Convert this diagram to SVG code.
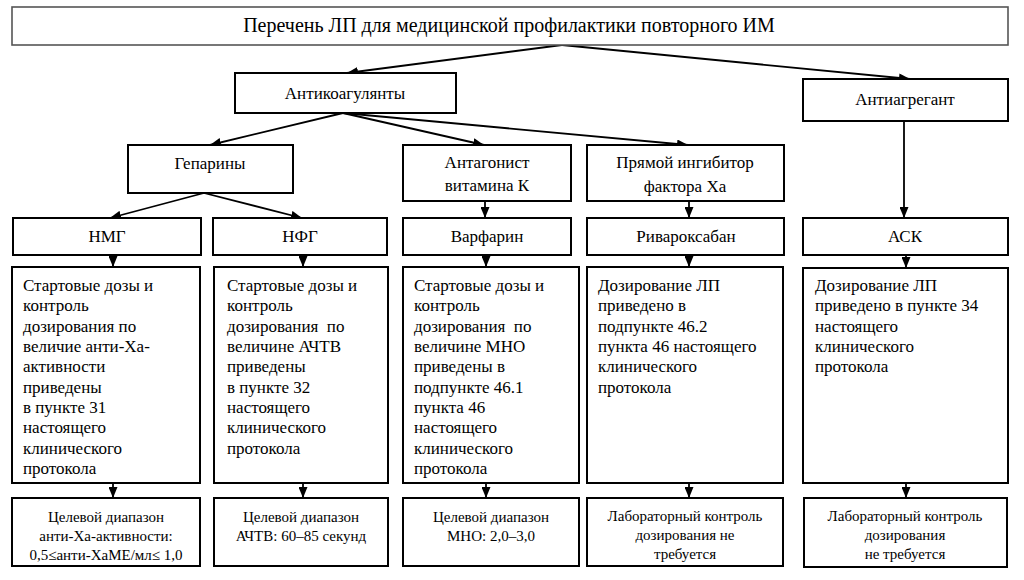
<svg xmlns="http://www.w3.org/2000/svg" width="1024" height="580" viewBox="0 0 1024 580">
<defs>
<marker id="arr" markerUnits="userSpaceOnUse" markerWidth="11" markerHeight="9" refX="11" refY="4.5" orient="auto">
<path d="M0,0 L11,4.5 L0,9 z" fill="#000"/>
</marker>
<style>
.box{fill:#fff;stroke:#000;stroke-width:2}
.tbox{fill:#fff;stroke:#555;stroke-width:1.6}
text{font-family:"Liberation Serif","Times New Roman",Tinos,"Noto Serif","DejaVu Serif",FreeSerif,serif;fill:#000}
.tt{font-size:20px}
.lb{font-size:17px;text-anchor:middle}
.bd{font-size:17px}
.sm{font-size:15px;text-anchor:middle}
.c{fill:none;stroke:#000;stroke-width:1.8;marker-end:url(#arr)}
</style>
</defs>
<rect width="1024" height="580" fill="#fff"/>

<g id="connectors">
<line class="c" x1="562" y1="45" x2="347" y2="73"/>
<line class="c" x1="562" y1="45" x2="910" y2="79"/>
<line class="c" x1="343" y1="113" x2="210" y2="145"/>
<line class="c" x1="343" y1="113" x2="484" y2="145"/>
<line class="c" x1="343" y1="113" x2="688" y2="145"/>
<line class="c" x1="904" y1="121" x2="904" y2="218"/>
<line class="c" x1="204" y1="193" x2="110" y2="218"/>
<line class="c" x1="204" y1="193" x2="302" y2="218"/>
<line class="c" x1="485" y1="201" x2="485" y2="218"/>
<line class="c" x1="689" y1="201" x2="689" y2="218"/>
<line class="c" x1="113" y1="255" x2="113" y2="267"/>
<line class="c" x1="303" y1="255" x2="303" y2="267"/>
<line class="c" x1="486" y1="255" x2="486" y2="267"/>
<line class="c" x1="689" y1="255" x2="689" y2="267"/>
<line class="c" x1="906" y1="255" x2="906" y2="268"/>
<line class="c" x1="113" y1="483" x2="113" y2="498"/>
<line class="c" x1="303" y1="483" x2="303" y2="498"/>
<line class="c" x1="486" y1="483" x2="486" y2="498"/>
<line class="c" x1="689" y1="483" x2="689" y2="498"/>
<line class="c" x1="906" y1="483" x2="906" y2="498"/>
</g>

<g id="title">
<rect class="tbox" x="12" y="7" width="996" height="38"/>
<text class="tt" x="509" y="32" text-anchor="middle">Перечень ЛП для медицинской профилактики повторного ИМ</text>
</g>

<g id="anticoag">
<rect class="box" x="235" y="73" width="221" height="40"/>
<text class="lb" x="345" y="99">Антикоагулянты</text>
</g>

<g id="antiagr">
<rect class="box" x="803" y="79" width="205" height="42"/>
<text class="lb" x="905" y="105">Антиагрегант</text>
</g>

<g id="heparins">
<rect class="box" x="128" y="145" width="165" height="48"/>
<text class="lb" x="210" y="169">Гепарины</text>
</g>

<g id="antagonist">
<rect class="box" x="403" y="145" width="168" height="56"/>
<text class="lb" x="487" y="168">Антагонист</text>
<text class="lb" x="487" y="191">витамина К</text>
</g>

<g id="direct">
<rect class="box" x="587" y="145" width="197" height="56"/>
<text class="lb" x="685" y="168">Прямой ингибитор</text>
<text class="lb" x="685" y="192">фактора Ха</text>
</g>

<g id="nmg">
<rect class="box" x="13" y="218" width="188" height="37"/>
<text class="lb" x="107" y="242">НМГ</text>
</g>
<g id="nfg">
<rect class="box" x="213" y="218" width="174" height="37"/>
<text class="lb" x="300" y="242">НФГ</text>
</g>
<g id="warfarin">
<rect class="box" x="403" y="218" width="168" height="37"/>
<text class="lb" x="487" y="242">Варфарин</text>
</g>
<g id="rivaroxaban">
<rect class="box" x="587" y="218" width="197" height="37"/>
<text class="lb" x="686" y="242">Ривароксабан</text>
</g>
<g id="ask">
<rect class="box" x="803" y="218" width="205" height="37"/>
<text class="lb" x="905" y="242">АСК</text>
</g>

<g id="nmg-dose">
<rect class="box" x="12" y="267" width="188" height="216"/>
<text class="bd" x="23" y="291">Стартовые дозы и</text>
<text class="bd" x="23" y="311">контроль</text>
<text class="bd" x="23" y="332">дозирования по</text>
<text class="bd" x="23" y="352">величие анти-Ха-</text>
<text class="bd" x="23" y="372">активности</text>
<text class="bd" x="23" y="393">приведены</text>
<text class="bd" x="23" y="413">в пункте 31</text>
<text class="bd" x="23" y="433">настоящего</text>
<text class="bd" x="23" y="454">клинического</text>
<text class="bd" x="23" y="474">протокола</text>
</g>
<g id="nfg-dose">
<rect class="box" x="214" y="267" width="174" height="216"/>
<text class="bd" x="227" y="291">Стартовые дозы и</text>
<text class="bd" x="227" y="311">контроль</text>
<text class="bd" x="227" y="332" xml:space="preserve">дозирования  по</text>
<text class="bd" x="227" y="352">величине АЧТВ</text>
<text class="bd" x="227" y="372">приведены</text>
<text class="bd" x="227" y="393">в пункте 32</text>
<text class="bd" x="227" y="413">настоящего</text>
<text class="bd" x="227" y="433">клинического</text>
<text class="bd" x="227" y="454">протокола</text>
</g>
<g id="warfarin-dose">
<rect class="box" x="403" y="267" width="176" height="216"/>
<text class="bd" x="414" y="291">Стартовые дозы и</text>
<text class="bd" x="414" y="311">контроль</text>
<text class="bd" x="414" y="332" xml:space="preserve">дозирования  по</text>
<text class="bd" x="414" y="352">величине МНО</text>
<text class="bd" x="414" y="372">приведены в</text>
<text class="bd" x="414" y="393">подпункте 46.1</text>
<text class="bd" x="414" y="413">пункта 46</text>
<text class="bd" x="414" y="433">настоящего</text>
<text class="bd" x="414" y="454">клинического</text>
<text class="bd" x="414" y="474">протокола</text>
</g>
<g id="riva-dose">
<rect class="box" x="587" y="267" width="196" height="216"/>
<text class="bd" x="598" y="291">Дозирование ЛП</text>
<text class="bd" x="598" y="311">приведено в</text>
<text class="bd" x="598" y="332">подпункте 46.2</text>
<text class="bd" x="598" y="352">пункта 46 настоящего</text>
<text class="bd" x="598" y="372">клинического</text>
<text class="bd" x="598" y="393">протокола</text>
</g>
<g id="ask-dose">
<rect class="box" x="803" y="268" width="205" height="215"/>
<text class="bd" x="815" y="291">Дозирование ЛП</text>
<text class="bd" x="815" y="311">приведено в пункте 34</text>
<text class="bd" x="815" y="332">настоящего</text>
<text class="bd" x="815" y="352">клинического</text>
<text class="bd" x="815" y="372">протокола</text>
</g>

<g id="nmg-target">
<rect class="box" x="12" y="498" width="188" height="68"/>
<text class="sm" x="106" y="522">Целевой диапазон</text>
<text class="sm" x="106" y="541">анти-Ха-активности:</text>
<text class="sm" x="106" y="560">0,5≤анти-ХаМЕ/мл≤ 1,0</text>
</g>
<g id="nfg-target">
<rect class="box" x="214" y="498" width="174" height="68"/>
<text class="sm" x="301" y="522">Целевой диапазон</text>
<text class="sm" x="301" y="541">АЧТВ: 60–85 секунд</text>
</g>
<g id="warfarin-target">
<rect class="box" x="403" y="498" width="176" height="68"/>
<text class="sm" x="491" y="522">Целевой диапазон</text>
<text class="sm" x="491" y="541">МНО: 2,0–3,0</text>
</g>
<g id="riva-target">
<rect class="box" x="587" y="498" width="196" height="68"/>
<text class="sm" x="685" y="521">Лабораторный контроль</text>
<text class="sm" x="685" y="540">дозирования не</text>
<text class="sm" x="685" y="559">требуется</text>
</g>
<g id="ask-target">
<rect class="box" x="804" y="498" width="203" height="69"/>
<text class="sm" x="905" y="521">Лабораторный контроль</text>
<text class="sm" x="905" y="540">дозирования</text>
<text class="sm" x="905" y="559">не требуется</text>
</g>
</svg>
